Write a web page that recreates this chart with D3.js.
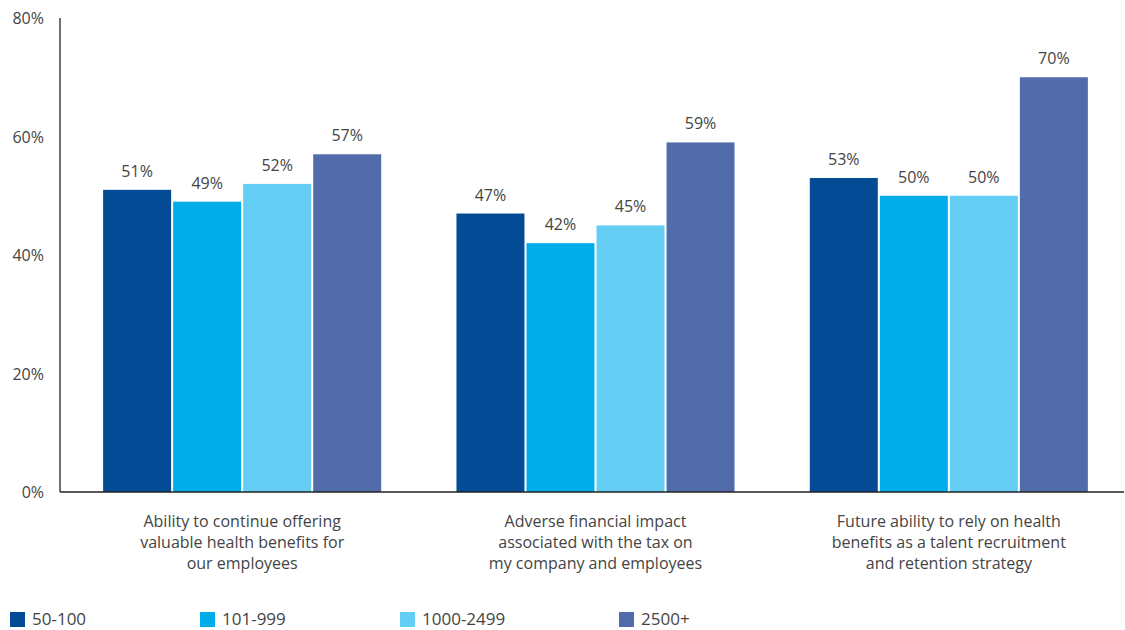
<!DOCTYPE html>
<html>
<head>
<meta charset="utf-8">
<script src="https://cdn.jsdelivr.net/npm/d3@7"></script>
<style>
  html, body { margin: 0; padding: 0; background: #fff; }
  svg { display: block; }
  text { font-family: "Open Sans", "Noto Sans", sans-serif; fill: #444; }
</style>
</head>
<body>
<svg id="chart" width="1125" height="630"></svg>
<script>
// Survey concern categories (each label split into display lines)
const categories = [
  ["Ability to continue offering", "valuable health benefits for", "our employees"],
  ["Adverse financial impact", "associated with the tax on", "my company and employees"],
  ["Future ability to rely on health", "benefits as a talent recruitment", "and retention strategy"]
];

// Employer size groups
const seriesNames = ["50-100", "101-999", "1000-2499", "2500+"];
const seriesColors = ["#034b94", "#00ade8", "#64cdf3", "#516bab"];

// Share of respondents (%) per category, one array per size group
const size50to100 = [51, 47, 53];
const size101to999 = [49, 42, 50];
const size1000to2499 = [52, 45, 50];
const size2500plus = [57, 59, 70];
const seriesValues = [size50to100, size101to999, size1000to2499, size2500plus];

const yTicks = [0, 20, 40, 60, 80];

const svg = d3.select("#chart");
const margin = { left: 60, right: 1124, top: 18, bottom: 492 };

const y = d3.scaleLinear().domain([0, 80]).range([margin.bottom, margin.top]);

const x0 = d3.scaleBand()
  .domain(d3.range(categories.length))
  .range([65.5, 1125.5])
  .paddingInner(0.213)
  .paddingOuter(0.1065);

const x1 = d3.scaleBand()
  .domain(d3.range(seriesNames.length))
  .range([0, x0.bandwidth()])
  .paddingInner(0.029);

// Y axis labels (no tick marks)
const yAxis = d3.axisLeft(y)
  .tickValues(yTicks)
  .tickSize(0)
  .tickPadding(16)
  .tickFormat(d => d + "%");
const gy = svg.append("g")
  .attr("transform", `translate(${margin.left},0)`)
  .call(yAxis);
gy.select(".domain").remove();
gy.selectAll("text")
  .style("font-size", "16px")
  .attr("fill", "#444")
  .attr("dy", "0.36em");

// Bars
const groups = svg.append("g").selectAll("g")
  .data(categories)
  .join("g")
  .attr("transform", (d, i) => `translate(${x0(i)},0)`);

groups.selectAll("rect")
  .data((d, i) => seriesValues.map((s, k) => ({ k, v: s[i] })))
  .join("rect")
  .attr("x", d => x1(d.k))
  .attr("width", x1.bandwidth())
  .attr("y", d => y(d.v))
  .attr("height", d => y(0) - y(d.v))
  .attr("fill", d => seriesColors[d.k]);

// Value labels above bars
groups.selectAll("text.val")
  .data((d, i) => seriesValues.map((s, k) => ({ k, v: s[i] })))
  .join("text")
  .attr("class", "val")
  .attr("x", d => x1(d.k) + x1.bandwidth() / 2)
  .attr("y", d => y(d.v) - 13)
  .attr("text-anchor", "middle")
  .style("font-size", "16px")
  .text(d => d.v + "%");

// Axis lines
svg.append("line")
  .attr("x1", margin.left).attr("x2", margin.left)
  .attr("y1", margin.top).attr("y2", y(0))
  .attr("stroke", "#222").attr("stroke-width", 1.3);
svg.append("line")
  .attr("x1", margin.left).attr("x2", margin.right)
  .attr("y1", y(0)).attr("y2", y(0))
  .attr("stroke", "#222").attr("stroke-width", 1.6);

// Category labels below the baseline
svg.append("g").selectAll("text")
  .data(categories)
  .join("text")
  .attr("x", (d, i) => x0(i) + x0.bandwidth() / 2)
  .attr("y", 527)
  .attr("text-anchor", "middle")
  .style("font-size", "16px")
  .selectAll("tspan")
  .data(d => d)
  .join("tspan")
  .attr("x", function () { return d3.select(this.parentNode).attr("x"); })
  .attr("dy", (d, j) => j === 0 ? 0 : 21)
  .text(d => d);

// Legend
const legendX = [10, 200, 400, 619];
const legend = svg.append("g").selectAll("g")
  .data(seriesNames)
  .join("g")
  .attr("transform", (d, i) => `translate(${legendX[i]},612)`);
legend.append("rect")
  .attr("width", 15).attr("height", 15)
  .attr("fill", (d, i) => seriesColors[i]);
legend.append("text")
  .attr("x", 22).attr("y", 13)
  .style("font-size", "17px")
  .text(d => d);
</script>
</body>
</html>
